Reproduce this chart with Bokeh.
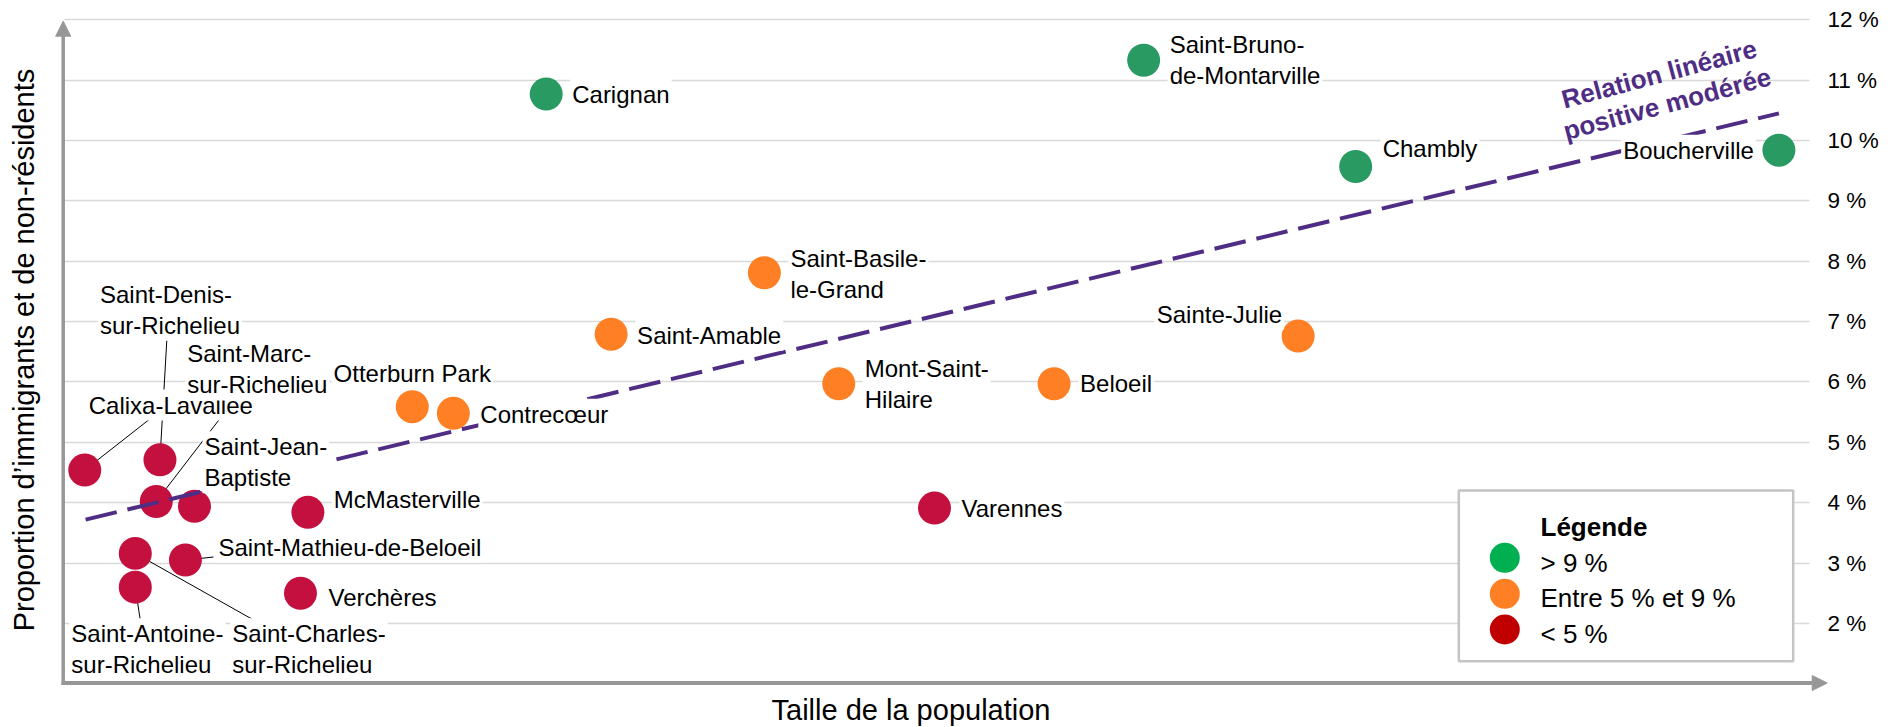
from bokeh.plotting import figure
from bokeh.models import Range1d, FixedTicker, Arrow, NormalHead, ColumnDataSource
from bokeh.core.properties import value
from bokeh.embed import file_html
from bokeh.resources import INLINE

# ---------------- data ----------------
municipalities = [
    "Boucherville", "Saint-Bruno-de-Montarville", "Chambly", "Carignan",
    "Saint-Basile-le-Grand", "Saint-Amable", "Sainte-Julie", "Mont-Saint-Hilaire",
    "Beloeil", "Varennes", "Otterburn Park", "Contrecœur", "McMasterville",
    "Verchères", "Calixa-Lavallée", "Saint-Denis-sur-Richelieu",
    "Saint-Marc-sur-Richelieu", "Saint-Jean-Baptiste", "Saint-Charles-sur-Richelieu",
    "Saint-Mathieu-de-Beloeil", "Saint-Antoine-sur-Richelieu",
]
point_labels = [
    "Boucherville", "Saint-Bruno-\nde-Montarville", "Chambly", "Carignan",
    "Saint-Basile-\nle-Grand", "Saint-Amable", "Sainte-Julie", "Mont-Saint-\nHilaire",
    "Beloeil", "Varennes", "Otterburn Park", "Contrecœur", "McMasterville",
    "Verchères", "Calixa-Lavallée", "Saint-Denis-\nsur-Richelieu",
    "Saint-Marc-\nsur-Richelieu", "Saint-Jean-\nBaptiste", "Saint-Charles-\nsur-Richelieu",
    "Saint-Mathieu-de-Beloeil", "Saint-Antoine-\nsur-Richelieu",
]
population = [
    41740, 26280, 31440, 11740,
    17050, 13320, 30040, 18860,
    24100, 21190, 8480, 9480, 5940,
    5760, 510, 2340,
    2250, 3180, 1740,
    2960, 1740,
]
pct_immigrants = [
    9.84, 11.33, 9.57, 10.77,
    7.81, 6.79, 6.76, 5.97,
    5.97, 3.91, 5.59, 5.48, 3.84,
    2.50, 4.54, 4.71,
    4.02, 3.94, 3.16,
    3.05, 2.60,
]

trend_population = [530, 41740]
trend_pct = [3.72, 10.45]
trend_note = "Relation linéaire\npositive modérée"

y_ticks = [2, 3, 4, 5, 6, 7, 8, 9, 10, 11, 12]
y_tick_labels = ["2 %", "3 %", "4 %", "5 %", "6 %", "7 %", "8 %", "9 %", "10 %", "11 %", "12 %"]

x_title = "Taille de la population"
y_title = "Proportion d’immigrants et de non-résidents"

legend_title = "Légende"
legend_labels = ["> 9 %", "Entre 5 % et 9 %", "< 5 %"]
class_thresholds = [9, 5]

# ---------------- styles / layout ----------------
FONT = "Liberation Sans"
POINT_COLORS = ["#2A9A63", "#FF7F24", "#C3103F"]
LEGEND_COLORS = ["#00B050", "#FF7F24", "#C00000"]
PURPLE = "#4F2D84"
AXIS_GRAY = "#979797"
GRID_GRAY = "#D9D9D9"

W, H = 1900, 727
B_L, B_R, B_T, B_B = 0, 73, 0, 0
FRAME_W = W - B_L - B_R
FRAME_H = H - B_T - B_B
# pixel <-> data calibration of the frame
PX_PER_PERSON = 0.04109
PX_ORIGIN_X = 63.3          # pixel x of population 0
PX_PER_PCT = 60.36
PX_12PCT = 19.3             # pixel y of 12 %
X0 = (B_L - PX_ORIGIN_X) / PX_PER_PERSON
X1 = (B_L + FRAME_W - PX_ORIGIN_X) / PX_PER_PERSON
Y1 = 12 + (PX_12PCT - B_T) / PX_PER_PCT
Y0 = 12 - (B_T + FRAME_H - PX_12PCT) / PX_PER_PCT
SX = FRAME_W / (X1 - X0)
SY = FRAME_H / (Y1 - Y0)


def px2x(px):
    return X0 + (px - B_L) / SX


def px2y(py):
    return Y1 - (py - B_T) / SY


# label placement: (dx, dy, align) in screen pixels relative to point
LABEL_LAYOUT = {
    "Boucherville": (-23, 0, "right"),
    "Saint-Bruno-de-Montarville": (24, 0, "left"),
    "Chambly": (25, -17.5, "left"),
    "Carignan": (24, 0, "left"),
    "Saint-Basile-le-Grand": (24, 1, "left"),
    "Saint-Amable": (24, 1, "left"),
    "Sainte-Julie": (-14, -22, "right"),
    "Mont-Saint-Hilaire": (24, 0, "left"),
    "Beloeil": (24, 0, "left"),
    "Varennes": (25, 0, "left"),
    "Otterburn Park": (0, -33, "center"),
    "Contrecœur": (25, 1, "left"),
    "McMasterville": (24, -13, "left"),
    "Verchères": (26, 4, "left"),
    "Calixa-Lavallée": (2, -65, "left"),
    "Saint-Denis-sur-Richelieu": (-62, -150, "left"),
    "Saint-Marc-sur-Richelieu": (29, -132, "left"),
    "Saint-Jean-Baptiste": (8, -44, "left"),
    "Saint-Charles-sur-Richelieu": (95, 96, "left"),
    "Saint-Mathieu-de-Beloeil": (31, -13, "left"),
    "Saint-Antoine-sur-Richelieu": (-66, 62, "left"),
}
LEADERS = {
    "Calixa-Lavallée": (65, -51),
    "Saint-Denis-sur-Richelieu": (7, -122),
    "Saint-Marc-sur-Richelieu": (83, -108),
    "Saint-Charles-sur-Richelieu": (119, 67),
    "Saint-Antoine-sur-Richelieu": (5, 33),
    "Saint-Mathieu-de-Beloeil": (28, -3),
}


def klass(v):
    if v > class_thresholds[0]:
        return 0
    if v >= class_thresholds[1]:
        return 1
    return 2


colors = [POINT_COLORS[klass(v)] for v in pct_immigrants]

p = figure(width=W, height=H, output_backend="svg", toolbar_location=None,
           x_range=Range1d(X0, X1), y_range=Range1d(Y0, Y1),
           x_axis_location=None, y_axis_location="right",
           min_border_left=B_L, min_border_right=B_R,
           min_border_top=B_T, min_border_bottom=B_B,
           outline_line_color=None)
p.background_fill_color = "white"
p.border_fill_color = "white"

ax = p.yaxis[0]
ax.ticker = FixedTicker(ticks=y_ticks)
ax.major_label_overrides = {t: l for t, l in zip(y_ticks, y_tick_labels)}
ax.axis_line_color = None
ax.major_tick_line_color = None
ax.minor_tick_line_color = None
ax.major_tick_out = 0
ax.major_tick_in = 0
ax.major_label_standoff = 0
ax.major_label_text_font = FONT
ax.major_label_text_font_size = "22.5px"
ax.major_label_text_color = "black"

for g in p.xgrid:
    g.visible = False
p.ygrid.grid_line_color = GRID_GRAY
p.ygrid.grid_line_width = 1.5
p.ygrid.cross_bounds = (px2x(64), px2x(1809))

# leader lines
lx0, ly0, lx1, ly1 = [], [], [], []
for name, x, y in zip(municipalities, population, pct_immigrants):
    if name in LEADERS:
        dx, dy = LEADERS[name]
        lx0.append(x)
        ly0.append(y)
        lx1.append(x + dx / SX)
        ly1.append(y - dy / SY)
p.segment(x0=lx0, y0=ly0, x1=lx1, y1=ly1, line_color="black", line_width=1)

# points
src = ColumnDataSource(dict(x=population, y=pct_immigrants, c=colors))
p.scatter("x", "y", source=src, size=33, fill_color="c", line_color=None)

# trend line
p.line(trend_population, trend_pct, line_color=PURPLE, line_width=4, line_dash="32 11")

# point labels
for align in ["left", "right", "center"]:
    xs, ys, ts, dxs, dys = [], [], [], [], []
    for name, lab, x, y in zip(municipalities, point_labels, population, pct_immigrants):
        dx, dy, a = LABEL_LAYOUT[name]
        if a != align:
            continue
        xs.append(x); ys.append(y); ts.append(lab); dxs.append(dx); dys.append(dy)
    if xs:
        p.text(x=xs, y=ys, text=ts, x_offset=dxs, y_offset=dys,
               text_align=align, text_baseline="middle",
               text_font=value(FONT), text_font_size="24px", text_color="black",
               text_line_height=1.15, background_fill_color="white", padding=2)

# trend annotation
p.text(x=[px2x(1662.6)], y=[px2y(88.4)], text=[trend_note], angle=15, angle_units="deg",
       text_align="center", text_baseline="middle", text_font=value(FONT),
       text_font_size="26px", text_font_style="bold", text_color=PURPLE,
       text_line_height=1.03)

# legend (custom)
p.quad(left=[px2x(1458.3)], right=[px2x(1792.7)], top=[px2y(490)], bottom=[px2y(660.7)],
       fill_color="white", line_color="#C4C4C4", line_width=2.5)
p.scatter(x=[px2x(1504.3)] * 3, y=[px2y(557.3), px2y(593.3), px2y(629)], size=30,
          fill_color=LEGEND_COLORS, line_color=None)
p.text(x=[px2x(1540)], y=[px2y(526)], text=[legend_title], text_align="left",
       text_baseline="middle", text_font=value(FONT), text_font_size="26px",
       text_font_style="bold", text_color="black")
p.text(x=[px2x(1540)] * 3, y=[px2y(562), px2y(597), px2y(633)], text=legend_labels,
       text_align="left", text_baseline="middle", text_font=value(FONT),
       text_font_size="26px", text_color="black")

# axes drawn as arrows
p.add_layout(Arrow(end=NormalHead(size=15, fill_color=AXIS_GRAY, line_color=AXIS_GRAY),
                   x_start=px2x(62.7), y_start=px2y(684.5), x_end=px2x(62.7), y_end=px2y(20.7),
                   line_color=AXIS_GRAY, line_width=3.5))
p.add_layout(Arrow(end=NormalHead(size=15, fill_color=AXIS_GRAY, line_color=AXIS_GRAY),
                   x_start=px2x(61), y_start=px2y(682.5), x_end=px2x(1826.7), y_end=px2y(682.5),
                   line_color=AXIS_GRAY, line_width=4))

# axis titles
p.text(x=[px2x(910.5)], y=[px2y(709.5)], text=[x_title], text_align="center",
       text_baseline="middle", text_font=value(FONT), text_font_size="29px",
       text_color="black")
p.text(x=[px2x(23)], y=[px2y(349.5)], text=[y_title], angle=90, angle_units="deg",
       text_align="center", text_baseline="middle", text_font=value(FONT),
       text_font_size="29px", text_color="black")

open("out.html", "w").write(file_html(p, INLINE))
